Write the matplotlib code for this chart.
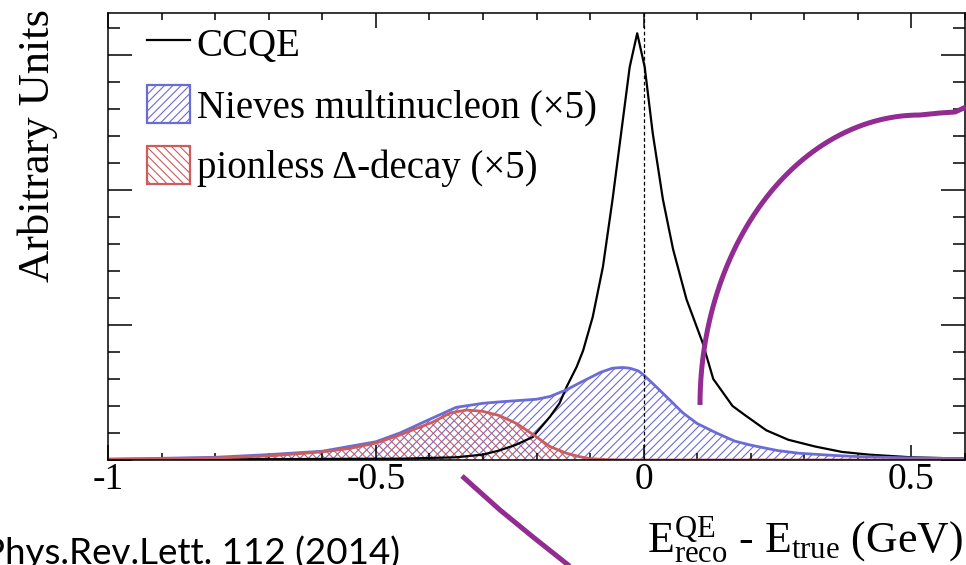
import numpy as np
import matplotlib
matplotlib.use('Agg')
import matplotlib.pyplot as plt
from matplotlib.patches import Patch
from matplotlib.lines import Line2D
from matplotlib.ticker import FixedLocator, MultipleLocator, NullFormatter

# define data
ccqe_x = [-1.0, -0.8, -0.6, -0.45, -0.35, -0.3, -0.27, -0.24, -0.207, -0.175, -0.157,
          -0.144, -0.125, -0.113, -0.095, -0.076, -0.058, -0.042, -0.026, -0.012,
          0.002, 0.017, 0.036, 0.055, 0.08, 0.11, 0.13, 0.166, 0.19, 0.229, 0.27,
          0.32, 0.37, 0.42, 0.5, 0.6]
ccqe_y = [0.005, 0.005, 0.008, 0.01, 0.02, 0.04, 0.07, 0.11, 0.17, 0.32, 0.42,
          0.54, 0.69, 0.81, 1.06, 1.43, 1.93, 2.42, 2.91, 3.16,
          2.91, 2.42, 1.93, 1.56, 1.19, 0.87, 0.6, 0.40, 0.33, 0.22, 0.15,
          0.10, 0.06, 0.04, 0.02, 0.01]

nieves_x = [-1.0, -0.8, -0.7, -0.6, -0.5, -0.455, -0.4, -0.35, -0.3, -0.27, -0.2,
            -0.175, -0.144, -0.12, -0.1, -0.08, -0.058, -0.04, -0.026, -0.01, 0.0,
            0.024, 0.05, 0.073, 0.1, 0.136, 0.17, 0.2, 0.25, 0.29, 0.35, 0.4, 0.5, 0.6]
nieves_y = [0.005, 0.02, 0.04, 0.065, 0.135, 0.2, 0.3, 0.39, 0.42, 0.43, 0.45,
            0.47, 0.52, 0.57, 0.61, 0.65, 0.68, 0.685, 0.68, 0.66, 0.63,
            0.54, 0.44, 0.35, 0.27, 0.2, 0.14, 0.11, 0.07, 0.05, 0.035, 0.025, 0.015, 0.01]

delta_x = [-1.0, -0.9, -0.8, -0.7, -0.6, -0.55, -0.5, -0.455, -0.42, -0.394, -0.36,
           -0.33, -0.3, -0.27, -0.237, -0.207, -0.175, -0.144, -0.12, -0.1, -0.07,
           -0.03, 0.0, 0.6]
delta_y = [0.007, 0.01, 0.015, 0.03, 0.06, 0.085, 0.125, 0.185, 0.24, 0.28, 0.35,
           0.37, 0.36, 0.33, 0.27, 0.19, 0.10, 0.05, 0.025, 0.01, 0.003,
           0.0, 0.0, 0.0]

xtick_vals = [-1, -0.5, 0, 0.5]
xtick_labels = ['-1', '-0.5', '0', '0.5']

legend_labels = ['CCQE', 'Nieves multinucleon (×5)', 'pionless Δ-decay (×5)']

blue = '#6b6bd6'
red = '#cd5c5c'
purple = '#922b92'

plt.rcParams['font.family'] = ['Liberation Serif', 'DejaVu Serif']
plt.rcParams['mathtext.fontset'] = 'custom'
plt.rcParams['mathtext.rm'] = 'Liberation Serif'
plt.rcParams['mathtext.it'] = 'Liberation Serif:italic'
plt.rcParams['axes.unicode_minus'] = False
plt.rcParams['hatch.linewidth'] = 0.8

fig = plt.figure(figsize=(9.66, 5.65), dpi=100)
ax = fig.add_axes([108 / 966, 1 - 460 / 565, 857 / 966, 447 / 565])

# make plot
ax.fill_between(nieves_x, nieves_y, 0, facecolor='none', edgecolor=blue,
                hatch='////', linewidth=0)
ax.fill_between(delta_x, delta_y, 0, facecolor='none', edgecolor=red,
                hatch='\\\\\\\\', linewidth=0)
ax.plot(ccqe_x, ccqe_y, color='black', lw=1.6)
ax.plot(nieves_x, nieves_y, color=blue, lw=2)
ax.plot(delta_x, delta_y, color=red, lw=2)
ax.axvline(0, color='black', lw=0.9, ls=(0, (3, 2)))

# customize plot
ax.set_xlim(-1, 0.6)
ax.set_ylim(0, 3.31)
ax.xaxis.set_major_locator(FixedLocator(xtick_vals))
ax.set_xticklabels(xtick_labels)
ax.xaxis.set_minor_locator(MultipleLocator(0.1))
ax.yaxis.set_major_locator(MultipleLocator(1))
ax.yaxis.set_minor_locator(MultipleLocator(0.2))
ax.yaxis.set_major_formatter(NullFormatter())
ax.tick_params(axis='both', which='both', direction='in', top=True, right=True, width=1.1)
ax.tick_params(axis='x', which='major', length=11, labelsize=27, pad=1.5)
ax.tick_params(axis='x', which='minor', length=5)
ax.tick_params(axis='y', which='major', length=17)
ax.tick_params(axis='y', which='minor', length=8.6)
for s in ax.spines.values():
    s.set_linewidth(1.1)

handles = [Line2D([], [], color='black', lw=1.6),
           Patch(facecolor='none', edgecolor=blue, hatch='////', lw=1.6),
           Patch(facecolor='none', edgecolor=red, hatch='\\\\\\\\', lw=1.6)]
ax.legend(handles, legend_labels,
          loc='upper left', bbox_to_anchor=(0.0455, 0.975), frameon=False,
          fontsize=28, borderpad=0, borderaxespad=0, handlelength=1.1,
          handleheight=1.13, handletextpad=0.18, labelspacing=0.5)

fig.text(38 / 966, 1 - 146 / 565, 'Arbitrary Units', rotation=90, fontsize=32,
         ha='center', va='center')
fig.text(963 / 966, 1 - 552 / 565,
         r'$\mathrm{E^{QE}_{reco}}$ - $\mathrm{E_{true}}$ (GeV)',
         fontsize=31.5, ha='right', va='baseline')
fig.text(400 / 966, 1 / 565, 'Phys.Rev.Lett. 112 (2014)', family='Lato',
         fontsize=26.5, ha='right', va='baseline')

# slide annotation strokes
ov = fig.add_axes([0, 0, 1, 1], zorder=5)
ov.set_xlim(0, 966)
ov.set_ylim(565, 0)
ov.axis('off')
t = np.linspace(np.pi, np.pi / 2, 60)
arc_x = list(920 + 220 * np.cos(t)) + [940, 955, 966]
arc_y = list(405 - 290 * np.sin(t)) + [113, 112, 107]
ov.plot(arc_x, arc_y, color=purple, lw=3.6, solid_capstyle='butt')
ov.plot([462, 500, 533, 572], [476, 510, 537, 568], color=purple, lw=3.6,
        solid_capstyle='butt')

fig.savefig('out.png', dpi=100)
